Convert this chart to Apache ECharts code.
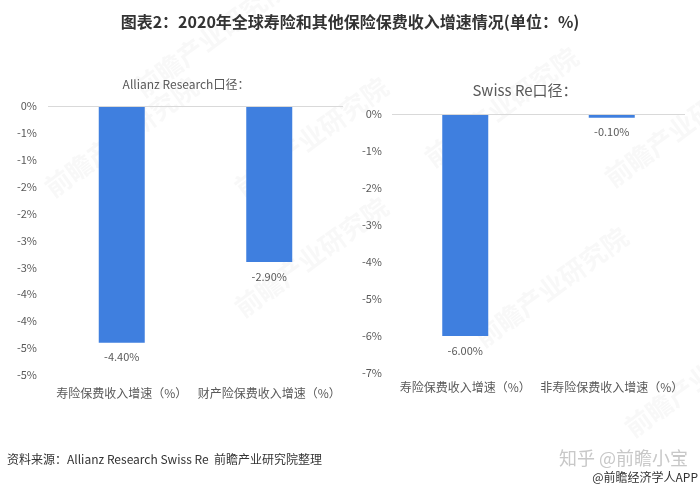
<!DOCTYPE html>
<html><head><meta charset="utf-8">
<script src="https://cdn.jsdelivr.net/npm/echarts@6/dist/echarts.min.js"></script>
<style>html,body{margin:0;padding:0;background:#fff}#c{width:700px;height:493px}</style>
</head><body><div id="c"></div>
<script>
var mainTitle = '图表2：2020年全球寿险和其他保险保费收入增速情况(单位：%)';
var leftTitle = 'Allianz Research口径：';
var rightTitle = 'Swiss Re口径：';
var leftCategories = ['寿险保费收入增速（%）', '财产险保费收入增速（%）'];
var leftValues = [-4.40, -2.90];
var rightCategories = ['寿险保费收入增速（%）', '非寿险保费收入增速（%）'];
var rightValues = [-6.00, -0.10];
var leftTickLabels = ['0%', '-1%', '-1%', '-2%', '-2%', '-3%', '-3%', '-4%', '-4%', '-5%', '-5%'];
var rightTickLabels = ['0%', '-1%', '-2%', '-3%', '-4%', '-5%', '-6%', '-7%'];
var sourceText = '资料来源：Allianz Research Swiss Re  前瞻产业研究院整理';

var FONT = '"Noto Sans CJK SC", "Noto Sans", sans-serif';
var BLUE = '#3f7fdf';
var chart = echarts.init(document.getElementById('c'));

function barSeries(idx, vals) {
  return {
    type: 'bar', xAxisIndex: idx, yAxisIndex: idx, data: vals, barWidth: 46,
    itemStyle: { color: BLUE },
    label: { show: true, position: 'bottom', distance: 9, color: '#595959', fontSize: 11, fontFamily: FONT,
      formatter: function (p) { return p.value.toFixed(2) + '%'; } },
    markLine: { silent: true, symbol: 'none', label: { show: false },
      lineStyle: { color: '#d9d9d9', width: 1, type: 'solid' }, data: [{ yAxis: 0 }] }
  };
}

var wm = [];
[[40,180],[230,300],[600,170],[620,420],[420,150],[130,80],[470,330],[230,180]].forEach(function (p) {
  wm.push({ type: 'text', x: p[0], y: p[1], rotation: Math.PI / 5, z: -1,
    style: { text: '前瞻产业研究院', fill: 'rgba(200,200,200,0.13)', font: 'bold 26px ' + FONT } });
});

chart.setOption({
  animation: false,
  title: [
    { text: mainTitle, left: 'center', top: 9, textStyle: { fontSize: 16, fontWeight: 'bold', color: '#333', fontFamily: FONT } },
    { text: leftTitle, left: 181, textAlign: 'center', top: 73, textStyle: { fontSize: 12, fontWeight: 'normal', color: '#595959', fontFamily: FONT } },
    { text: rightTitle, left: 520, textAlign: 'center', top: 78, textStyle: { fontSize: 15, fontWeight: 'normal', color: '#595959', fontFamily: FONT } }
  ],
  grid: [
    { left: 48, right: 357, top: 106, bottom: 118 },
    { left: 392, right: 15, top: 114, bottom: 120 }
  ],
  xAxis: [
    { type: 'category', gridIndex: 0, data: leftCategories, axisLine: { show: false }, axisTick: { show: false },
      axisLabel: { interval: 0, color: '#595959', fontSize: 12, margin: 12, fontFamily: FONT } },
    { type: 'category', gridIndex: 1, data: rightCategories, axisLine: { show: false }, axisTick: { show: false },
      axisLabel: { interval: 0, color: '#595959', fontSize: 12, margin: 8, fontFamily: FONT } }
  ],
  yAxis: [
    { type: 'value', gridIndex: 0, min: -5, max: 0, interval: 0.5, splitLine: { show: false },
      axisLine: { show: false }, axisTick: { show: false },
      axisLabel: { color: '#595959', fontSize: 11, margin: 11, fontFamily: FONT,
        formatter: function (v) { return leftTickLabels[Math.round(-v / 0.5)]; } } },
    { type: 'value', gridIndex: 1, min: -7, max: 0, interval: 1, splitLine: { show: false },
      axisLine: { show: false }, axisTick: { show: false },
      axisLabel: { color: '#595959', fontSize: 11, margin: 10, fontFamily: FONT,
        formatter: function (v) { return rightTickLabels[Math.round(-v)]; } } }
  ],
  series: [barSeries(0, leftValues), barSeries(1, rightValues)],
  graphic: wm.concat([
    { type: 'text', left: 7, top: 453, style: { text: sourceText, fill: '#333', font: '12px ' + FONT } },
    { type: 'text', right: 12, top: 449, style: { text: '知乎 @前瞻小宝', fill: '#c8c8c8', font: '18px ' + FONT } },
    { type: 'text', right: 2, top: 471, style: { text: '@前瞻经济学人APP', fill: '#333', font: '12px ' + FONT } }
  ])
});
</script></body></html>
